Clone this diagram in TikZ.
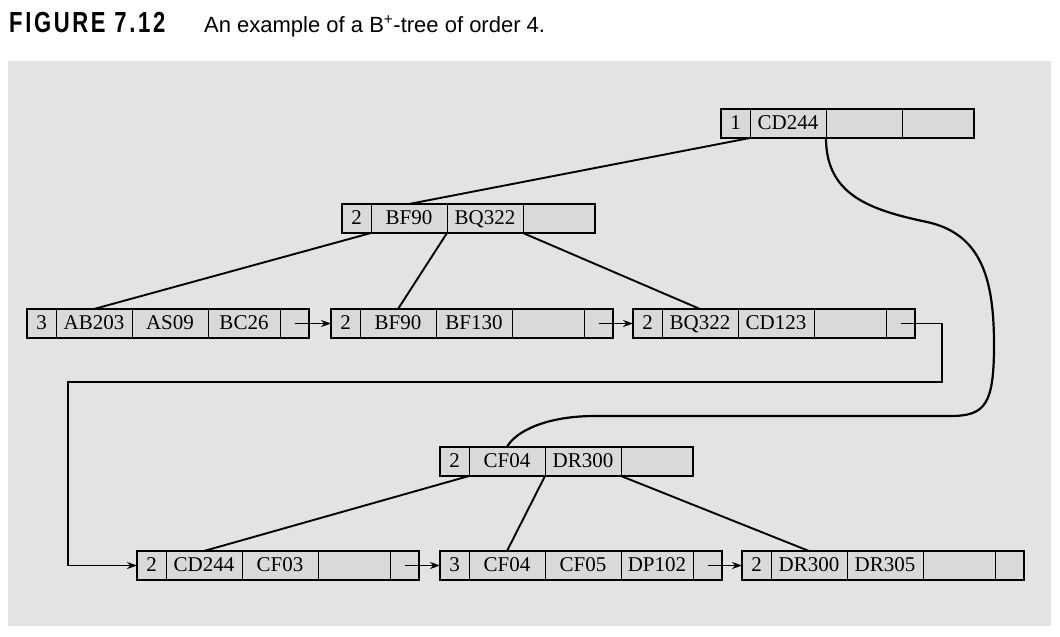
\documentclass[tikz,border=0pt]{standalone}
\usepackage{fontspec}
\setmainfont{Liberation Serif}
\newfontfamily\capfont{Liberation Sans}
\newfontfamily\figfont[LetterSpace=12]{Liberation Sans}
\usetikzlibrary{arrows.meta}
\definecolor{bggray}{HTML}{E3E3E3}
\definecolor{cellgray}{HTML}{D9D9D9}
\tikzset{
  cell/.style={draw=black, line width=1pt, fill=cellgray, minimum height=29pt,
    inner sep=0pt, outer sep=0pt, text height=11.6pt, text depth=0pt,
    font=\fontsize{21}{21}\selectfont, anchor=west},
  frame/.style={draw=black, line width=2.4pt},
  edge/.style={line width=1.9pt},
  curveedge/.style={line width=2.2pt},
  ptr/.style={line width=1.1pt, -{Stealth[length=10pt,width=7pt]}},
}
\newcommand\inode[7]{%
  \node[cell, minimum width=29pt, anchor=north west] (#1-0) at (#2,#3) {#4};
  \node[cell, minimum width=76pt] (#1-1) at (#1-0.east) {#5};
  \node[cell, minimum width=76pt] (#1-2) at (#1-1.east) {#6};
  \node[cell, minimum width=72pt] (#1-3) at (#1-2.east) {#7};
  \draw[frame] (#1-0.north west) rectangle (#1-3.south east);
}
\newcommand\lnode[7]{%
  \node[cell, minimum width=29pt, anchor=north west] (#1-0) at (#2,#3) {#4};
  \node[cell, minimum width=76pt] (#1-1) at (#1-0.east) {#5};
  \node[cell, minimum width=76pt] (#1-2) at (#1-1.east) {#6};
  \node[cell, minimum width=72pt] (#1-3) at (#1-2.east) {#7};
  \node[cell, minimum width=29pt] (#1-4) at (#1-3.east) {};
  \draw[frame] (#1-0.north west) rectangle (#1-4.south east);
}
\begin{document}
\begin{tikzpicture}[x=1pt,y=-1pt]
\useasboundingbox (0,0) rectangle (1060,637);
\fill[bggray] (8,61) rectangle (1051,626);
\node[anchor=base west, inner sep=0pt] (title) at (9,32.5)
  {\scalebox{0.76}[1]{\fontsize{29}{29}\figfont\bfseries FIGURE 7.12}};
\node[anchor=base west, inner sep=0pt] (caption) at (204,32.5)
  {\fontsize{22}{22}\capfont An example of a B\textsuperscript{+}-tree of order 4.};

% internal nodes
\inode{r}{721}{109}{1}{CD244}{}{}
\inode{b}{342}{204}{2}{BF90}{BQ322}{}
\inode{c}{440}{447}{2}{CF04}{DR300}{}
% leaves
\lnode{la}{27}{309}{3}{AB203}{AS09}{BC26}
\lnode{lb}{331}{309}{2}{BF90}{BF130}{}
\lnode{lc}{633}{309}{2}{BQ322}{CD123}{}
\lnode{ld}{137}{551}{2}{CD244}{CF03}{}
\lnode{le}{440}{551}{3}{CF04}{CF05}{DP102}
\lnode{lf}{742}{551}{2}{DR300}{DR305}{}

% tree edges
\draw[edge] (r-0.south east) -- (b-1.north);
\draw[edge] (b-0.south east) -- (la-1.north);
\draw[edge] (b-1.south east) -- (lb-1.north);
\draw[edge] (b-2.south east) -- (lc-1.north);
\draw[edge] (c-0.south east) -- (ld-1.north);
\draw[edge] (c-1.south east) -- (le-1.north);
\draw[edge] (c-2.south east) -- (lf-1.north);
\draw[curveedge] (r-1.south east) .. controls (826,195) and (870,210) .. (927,222)
  .. controls (982,234) and (994,280) .. (994,345)
  .. controls (994,405) and (985,416) .. (950,416) -- (595,416)
  .. controls (545,416) and (515,432) .. (c-1.north);

% leaf pointers
\draw[ptr] (la-4.center) -- (lb-0.west);
\draw[ptr] (lb-4.center) -- (lc-0.west);
\coordinate (wrapR) at (942,382);
\coordinate (wrapL) at (68,382);
\draw[ptr] (lc-4.center) -| (wrapR) -- (wrapL) |- (ld-0.west);
\draw[ptr] (ld-4.center) -- (le-0.west);
\draw[ptr] (le-4.center) -- (lf-0.west);
\end{tikzpicture}
\end{document}
